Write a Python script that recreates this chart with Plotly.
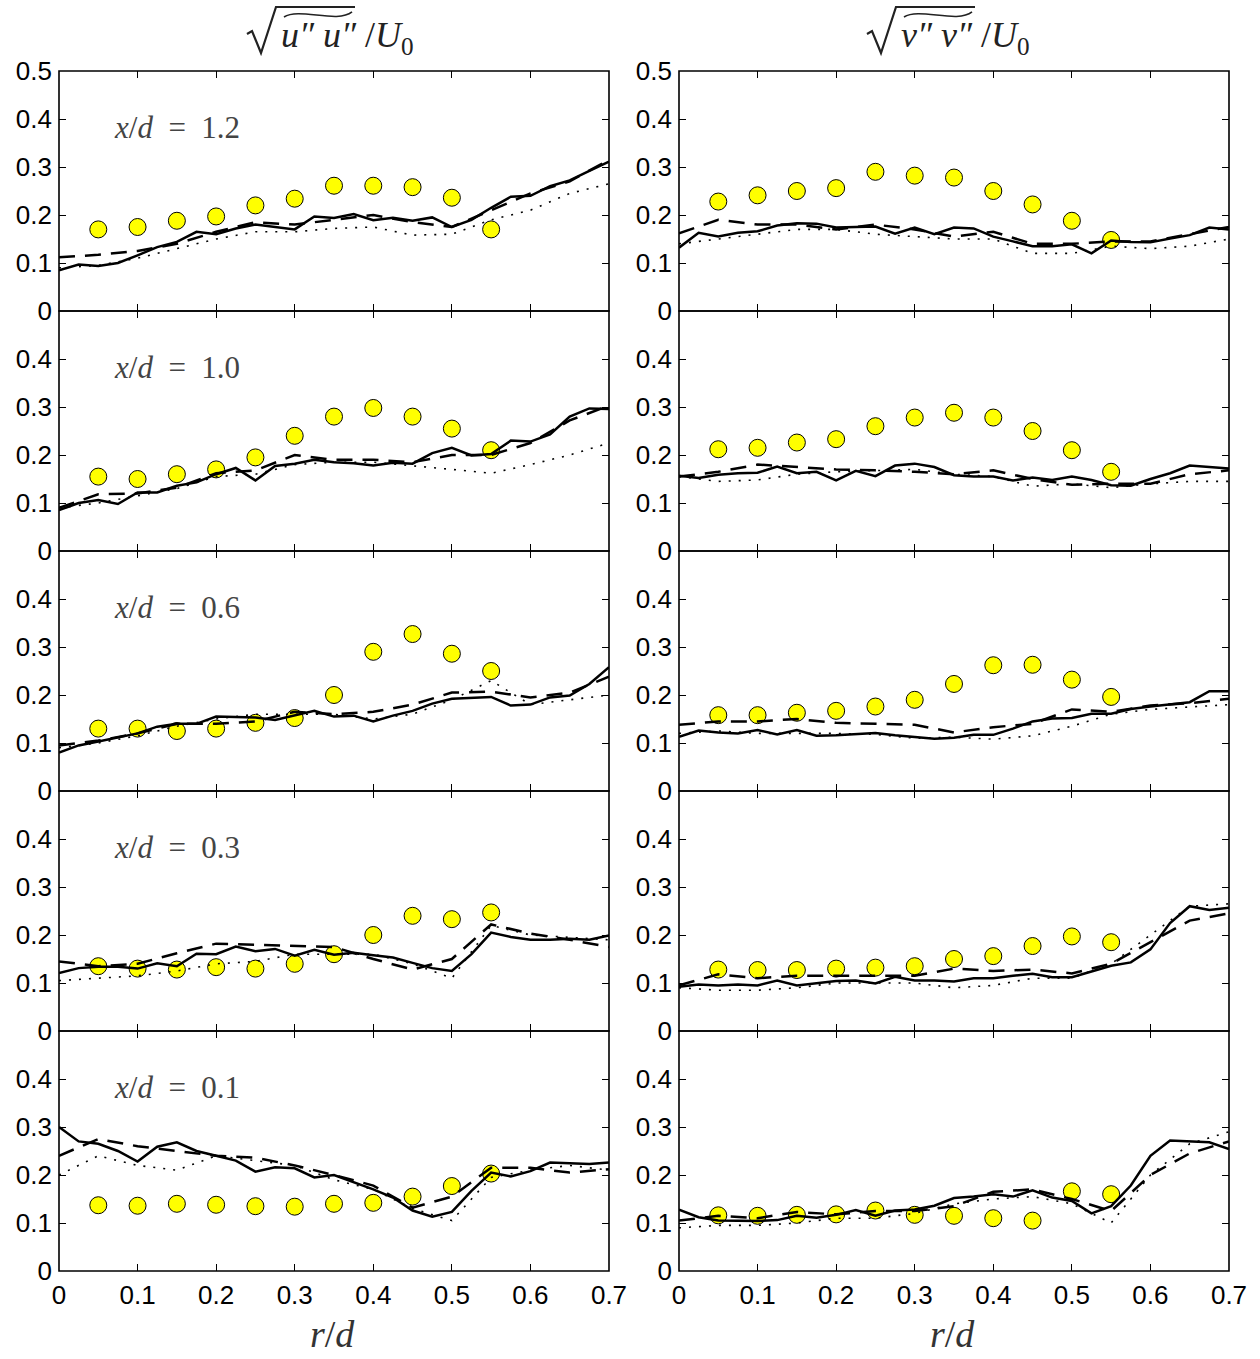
import plotly.graph_objects as go

# ---------------- data ----------------
R_LINE = [0.0, 0.025, 0.05, 0.075, 0.1, 0.125, 0.15, 0.175, 0.2, 0.225, 0.25, 0.275, 0.3, 0.325,
          0.35, 0.375, 0.4, 0.425, 0.45, 0.475, 0.5, 0.525, 0.55, 0.575, 0.6, 0.625, 0.65, 0.675, 0.7]
R_COARSE = [0.0, 0.05, 0.1, 0.15, 0.2, 0.25, 0.3, 0.35, 0.4, 0.45, 0.5, 0.55, 0.6, 0.65, 0.7]
R_EXP = [0.05, 0.1, 0.15, 0.2, 0.25, 0.3, 0.35, 0.4, 0.45, 0.5, 0.55]
X_TICKS = [0, 0.1, 0.2, 0.3, 0.4, 0.5, 0.6, 0.7]
Y_TICKS_TOP = [0, 0.1, 0.2, 0.3, 0.4, 0.5]
Y_TICKS = [0, 0.1, 0.2, 0.3, 0.4]
STATIONS = ["1.2", "1.0", "0.6", "0.3", "0.1"]

# u'' rms (left column)
U12_SOLID = [0.085, 0.097, 0.094, 0.100, 0.116, 0.133, 0.144, 0.165, 0.160, 0.172, 0.180, 0.175, 0.170, 0.197, 0.194,
             0.202, 0.189, 0.194, 0.188, 0.195, 0.175, 0.190, 0.215, 0.238, 0.240, 0.260, 0.272, 0.292, 0.311]
U12_DASH = [0.112, 0.117, 0.125, 0.140, 0.165, 0.185, 0.180, 0.190, 0.200, 0.185, 0.175, 0.210, 0.245, 0.270, 0.315]
U12_DOT = [0.090, 0.095, 0.110, 0.130, 0.150, 0.165, 0.165, 0.172, 0.175, 0.158, 0.160, 0.190, 0.210, 0.245, 0.265]
U12_EXP = [0.170, 0.175, 0.188, 0.197, 0.220, 0.234, 0.261, 0.261, 0.258, 0.236, 0.170]

U10_SOLID = [0.085, 0.100, 0.106, 0.098, 0.122, 0.122, 0.136, 0.143, 0.160, 0.173, 0.147, 0.177, 0.182, 0.190, 0.185,
             0.183, 0.178, 0.184, 0.182, 0.204, 0.215, 0.199, 0.202, 0.230, 0.228, 0.243, 0.280, 0.297, 0.296]
U10_DASH = [0.090, 0.118, 0.120, 0.132, 0.162, 0.168, 0.200, 0.190, 0.190, 0.185, 0.200, 0.200, 0.225, 0.272, 0.303]
U10_DOT = [0.090, 0.100, 0.115, 0.130, 0.155, 0.160, 0.180, 0.185, 0.185, 0.178, 0.170, 0.162, 0.180, 0.200, 0.225]
U10_EXP = [0.155, 0.150, 0.160, 0.170, 0.195, 0.240, 0.280, 0.298, 0.280, 0.255, 0.210]

U06_SOLID = [0.080, 0.095, 0.103, 0.112, 0.120, 0.134, 0.140, 0.140, 0.155, 0.154, 0.153, 0.148, 0.158, 0.167, 0.155,
             0.157, 0.145, 0.157, 0.167, 0.182, 0.192, 0.194, 0.196, 0.178, 0.180, 0.195, 0.199, 0.223, 0.258]
U06_DASH = [0.095, 0.105, 0.120, 0.140, 0.140, 0.145, 0.165, 0.160, 0.165, 0.180, 0.205, 0.207, 0.195, 0.205, 0.238]
U06_DOT = [0.090, 0.100, 0.115, 0.135, 0.150, 0.160, 0.160, 0.160, 0.150, 0.160, 0.190, 0.230, 0.180, 0.190, 0.200]
U06_EXP = [0.130, 0.130, 0.125, 0.130, 0.142, 0.152, 0.200, 0.290, 0.327, 0.286, 0.250]

U03_SOLID = [0.121, 0.131, 0.134, 0.134, 0.130, 0.141, 0.135, 0.161, 0.160, 0.176, 0.166, 0.171, 0.157, 0.169, 0.159,
             0.163, 0.158, 0.153, 0.142, 0.131, 0.125, 0.160, 0.205, 0.196, 0.190, 0.190, 0.192, 0.190, 0.199]
U03_DASH = [0.145, 0.135, 0.140, 0.162, 0.182, 0.180, 0.178, 0.175, 0.150, 0.128, 0.150, 0.222, 0.203, 0.190, 0.175]
U03_DOT = [0.105, 0.110, 0.115, 0.125, 0.140, 0.145, 0.160, 0.160, 0.160, 0.140, 0.110, 0.220, 0.200, 0.195, 0.190]
U03_EXP = [0.135, 0.130, 0.128, 0.133, 0.130, 0.140, 0.160, 0.200, 0.240, 0.233, 0.247]

U01_SOLID = [0.300, 0.270, 0.265, 0.250, 0.228, 0.259, 0.268, 0.250, 0.240, 0.230, 0.207, 0.216, 0.214, 0.195, 0.200,
             0.185, 0.170, 0.153, 0.126, 0.113, 0.123, 0.167, 0.205, 0.197, 0.208, 0.226, 0.224, 0.223, 0.226]
U01_DASH = [0.240, 0.275, 0.260, 0.250, 0.240, 0.236, 0.220, 0.200, 0.178, 0.132, 0.155, 0.215, 0.215, 0.205, 0.212]
U01_DOT = [0.200, 0.240, 0.220, 0.210, 0.240, 0.230, 0.220, 0.190, 0.170, 0.130, 0.105, 0.195, 0.210, 0.220, 0.210]
U01_EXP = [0.137, 0.136, 0.140, 0.138, 0.135, 0.134, 0.140, 0.142, 0.155, 0.177, 0.203]

# v'' rms (right column)
V12_SOLID = [0.132, 0.163, 0.155, 0.163, 0.166, 0.178, 0.183, 0.182, 0.174, 0.175, 0.176, 0.161, 0.174, 0.160, 0.174,
             0.172, 0.155, 0.145, 0.135, 0.135, 0.139, 0.120, 0.147, 0.144, 0.143, 0.151, 0.158, 0.174, 0.170]
V12_DASH = [0.162, 0.190, 0.180, 0.180, 0.170, 0.180, 0.170, 0.155, 0.165, 0.140, 0.140, 0.145, 0.145, 0.160, 0.175]
V12_DOT = [0.140, 0.150, 0.160, 0.170, 0.170, 0.160, 0.155, 0.150, 0.150, 0.120, 0.120, 0.135, 0.130, 0.135, 0.150]
V12_EXP = [0.228, 0.241, 0.250, 0.256, 0.290, 0.282, 0.278, 0.250, 0.222, 0.188, 0.148]

V10_SOLID = [0.157, 0.152, 0.159, 0.162, 0.163, 0.176, 0.162, 0.165, 0.147, 0.167, 0.156, 0.178, 0.182, 0.175, 0.158,
             0.155, 0.155, 0.147, 0.153, 0.148, 0.155, 0.148, 0.137, 0.136, 0.150, 0.162, 0.178, 0.175, 0.172]
V10_DASH = [0.155, 0.165, 0.180, 0.175, 0.170, 0.168, 0.165, 0.160, 0.168, 0.150, 0.138, 0.140, 0.140, 0.160, 0.168]
V10_DOT = [0.155, 0.145, 0.148, 0.160, 0.165, 0.168, 0.170, 0.160, 0.155, 0.135, 0.140, 0.132, 0.140, 0.145, 0.145]
V10_EXP = [0.212, 0.215, 0.226, 0.233, 0.260, 0.278, 0.288, 0.278, 0.250, 0.210, 0.165]

V06_SOLID = [0.113, 0.126, 0.122, 0.120, 0.127, 0.118, 0.127, 0.115, 0.116, 0.118, 0.121, 0.116, 0.112, 0.109, 0.111,
             0.117, 0.117, 0.130, 0.145, 0.151, 0.152, 0.161, 0.161, 0.171, 0.176, 0.181, 0.185, 0.208, 0.208]
V06_DASH = [0.138, 0.145, 0.145, 0.150, 0.142, 0.140, 0.138, 0.122, 0.133, 0.140, 0.170, 0.165, 0.178, 0.183, 0.192]
V06_DOT = [0.120, 0.125, 0.120, 0.120, 0.120, 0.118, 0.110, 0.112, 0.108, 0.115, 0.135, 0.160, 0.170, 0.175, 0.180]
V06_EXP = [0.158, 0.158, 0.163, 0.167, 0.176, 0.190, 0.223, 0.262, 0.263, 0.232, 0.196]

V03_SOLID = [0.092, 0.097, 0.095, 0.097, 0.095, 0.105, 0.095, 0.099, 0.104, 0.105, 0.099, 0.113, 0.105, 0.105, 0.103,
             0.110, 0.110, 0.115, 0.119, 0.112, 0.112, 0.124, 0.136, 0.143, 0.170, 0.225, 0.260, 0.252, 0.257]
V03_DASH = [0.095, 0.118, 0.110, 0.115, 0.115, 0.115, 0.115, 0.130, 0.125, 0.128, 0.120, 0.140, 0.185, 0.230, 0.245]
V03_DOT = [0.090, 0.085, 0.085, 0.090, 0.100, 0.100, 0.100, 0.090, 0.095, 0.110, 0.110, 0.140, 0.200, 0.260, 0.265]
V03_EXP = [0.128, 0.127, 0.127, 0.130, 0.132, 0.135, 0.150, 0.156, 0.177, 0.197, 0.185]

V01_SOLID = [0.128, 0.112, 0.105, 0.105, 0.104, 0.106, 0.115, 0.111, 0.117, 0.127, 0.115, 0.126, 0.128, 0.136, 0.152,
             0.155, 0.160, 0.155, 0.168, 0.153, 0.146, 0.120, 0.135, 0.178, 0.240, 0.272, 0.270, 0.268, 0.254]
V01_DASH = [0.105, 0.115, 0.110, 0.123, 0.118, 0.125, 0.125, 0.135, 0.165, 0.170, 0.150, 0.125, 0.200, 0.245, 0.270]
V01_DOT = [0.090, 0.095, 0.095, 0.100, 0.110, 0.110, 0.120, 0.140, 0.150, 0.155, 0.140, 0.100, 0.200, 0.265, 0.290]
V01_EXP = [0.116, 0.115, 0.117, 0.118, 0.126, 0.117, 0.115, 0.110, 0.105, 0.166, 0.160]

LEFT = [(U12_SOLID, U12_DASH, U12_DOT, U12_EXP), (U10_SOLID, U10_DASH, U10_DOT, U10_EXP),
        (U06_SOLID, U06_DASH, U06_DOT, U06_EXP), (U03_SOLID, U03_DASH, U03_DOT, U03_EXP),
        (U01_SOLID, U01_DASH, U01_DOT, U01_EXP)]
RIGHT = [(V12_SOLID, V12_DASH, V12_DOT, V12_EXP), (V10_SOLID, V10_DASH, V10_DOT, V10_EXP),
         (V06_SOLID, V06_DASH, V06_DOT, V06_EXP), (V03_SOLID, V03_DASH, V03_DOT, V03_EXP),
         (V01_SOLID, V01_DASH, V01_DOT, V01_EXP)]

# ---------------- layout geometry ----------------
W, H = 1260, 1359
ML, MR, MT, MB = 59, 31, 71, 88
PW = W - ML - MR
PH = H - MT - MB


def fx(x):
    return (x - ML) / PW


def fy(y):
    return (H - MB - y) / PH


COL_DOM = [[0, fx(609)], [fx(679), 1]]
TICK_FONT = dict(family="Liberation Sans, Arial, sans-serif", size=26, color="black")
SERIF = "Liberation Serif, Times New Roman, serif"
NB = "\u00a0"

fig = go.Figure()
layout = dict(width=W, height=H, margin=dict(l=ML, r=MR, t=MT, b=MB),
              paper_bgcolor="white", plot_bgcolor="white", showlegend=False)
annotations = []
shapes = []

for c, col in enumerate([LEFT, RIGHT]):
    for r, (solid, dash, dot, exp) in enumerate(col):
        n = c * 5 + r + 1
        xa = "x" if n == 1 else f"x{n}"
        ya = "y" if n == 1 else f"y{n}"
        fig.add_trace(go.Scatter(x=R_EXP, y=exp, mode="markers", xaxis=xa, yaxis=ya,
                                 marker=dict(symbol="circle", size=17, color="#FFFF00",
                                             line=dict(color="black", width=1))))
        fig.add_trace(go.Scatter(x=R_COARSE, y=dot, mode="lines", xaxis=xa, yaxis=ya,
                                 line=dict(color="black", width=1.6, dash="2px,8px")))
        fig.add_trace(go.Scatter(x=R_COARSE, y=dash, mode="lines", xaxis=xa, yaxis=ya,
                                 line=dict(color="black", width=2.5, dash="16px,10px")))
        fig.add_trace(go.Scatter(x=R_LINE, y=solid, mode="lines", xaxis=xa, yaxis=ya,
                                 line=dict(color="black", width=2.5)))
        top = 1 - r / 5
        bot = 1 - (r + 1) / 5
        yt = Y_TICKS_TOP if r == 0 else Y_TICKS
        layout["xaxis" if n == 1 else f"xaxis{n}"] = dict(
            domain=COL_DOM[c], anchor=ya, range=[0, 0.7], tickvals=X_TICKS,
            ticktext=[f"{v:g}" for v in X_TICKS], showticklabels=(r == 4),
            ticks="inside", ticklen=7, tickwidth=1, tickcolor="black",
            showline=False, mirror="allticks", ticklabelstandoff=6,
            showgrid=False, zeroline=False, tickfont=TICK_FONT, fixedrange=True)
        layout["yaxis" if n == 1 else f"yaxis{n}"] = dict(
            domain=[bot, top], anchor=xa, range=[0, 0.5], tickvals=yt,
            ticktext=[f"{v:g}" for v in yt],
            ticks="inside", ticklen=7, tickwidth=1, tickcolor="black",
            showline=False, mirror="allticks", ticklabelstandoff=6,
            showgrid=False, zeroline=False, tickfont=TICK_FONT, fixedrange=True)
        shapes.append(dict(type="rect", xref="paper", yref="paper", x0=COL_DOM[c][0], x1=COL_DOM[c][1],
                           y0=bot, y1=top, line=dict(color="black", width=1.6), fillcolor="rgba(0,0,0,0)",
                           layer="above"))
        if c == 0:
            annotations.append(dict(x=0.068, y=0.383, xref=xa, yref=ya, xanchor="left", yanchor="middle",
                                    text=f"<i>x</i>/<i>d</i>{NB}{NB}={NB}{NB}{STATIONS[r]}", showarrow=False,
                                    font=dict(family=SERIF, size=31, color="#444444")))

# x-axis titles
for xc in (332, 952):
    annotations.append(dict(x=fx(xc), y=fy(1334), xref="paper", yref="paper", xanchor="center",
                            yanchor="middle", text="<i>r</i>/<i>d</i>", showarrow=False,
                            font=dict(family=SERIF, size=38, color="#333333")))

# column titles: radical, wide tilde, text
for x0, var in ((247, "u"), (867, "v")):
    pts = [(x0, 34), (x0 + 5, 31), (x0 + 14, 53), (x0 + 29, 7), (x0 + 108, 7)]
    path = "M " + " L ".join(f"{fx(a):.5f},{fy(b):.5f}" for a, b in pts)
    shapes.append(dict(type="path", xref="paper", yref="paper", path=path,
                       line=dict(color="#222222", width=2.2)))
    tx = [(x0 + 37, 17), (x0 + 52, 7), (x0 + 90, 24), (x0 + 105, 12)]
    tpath = f"M {fx(tx[0][0]):.5f},{fy(tx[0][1]):.5f} C " + " ".join(
        f"{fx(a):.5f},{fy(b):.5f}" for a, b in tx[1:])
    shapes.append(dict(type="path", xref="paper", yref="paper", path=tpath,
                       line=dict(color="#222222", width=1.6)))
    annotations.append(dict(x=fx(x0 + 32), y=fy(38), xref="paper", yref="paper", xanchor="left",
                            yanchor="middle", showarrow=False,
                            text=f"<i>{var}″{NB}{var}″</i>{NB}/<i>U</i><sub>0</sub>",
                            font=dict(family=SERIF, size=36, color="#222222")))

layout["annotations"] = annotations
layout["shapes"] = shapes
fig.update_layout(**layout)
fig.write_html("out.html")
